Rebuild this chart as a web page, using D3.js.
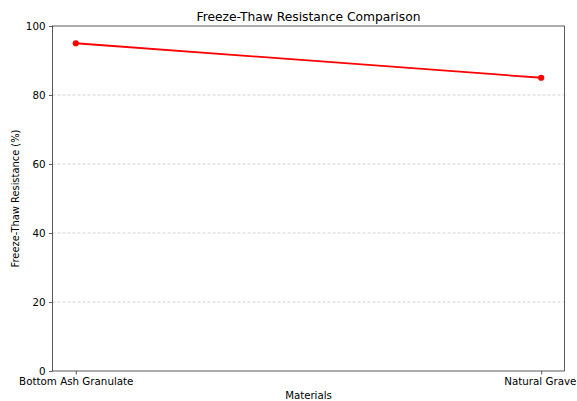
<!DOCTYPE html>
<html><head><meta charset="utf-8">
<script src="https://cdn.jsdelivr.net/npm/d3@7"></script>
<style>body{margin:0;background:#fff}svg{display:block}text{font-family:"DejaVu Sans",sans-serif}</style>
</head><body>
<svg id="c" width="577" height="401"></svg>
<script>
const categories = ["Bottom Ash Granulate", "Natural Gravel"];
const values = [95, 85];
const yTicks = [0, 20, 40, 60, 80, 100];

const W = 577, H = 401;
const m = {l: 52.5, r: 564.5, t: 26, b: 371};
const svg = d3.select("#c");

// matplotlib-like 5% margins
const xLin = d3.scaleLinear().domain([-0.05, 1.05]).range([m.l, m.r]);
const xPos = c => xLin(categories.indexOf(c));
const y = d3.scaleLinear().domain([0, 100]).range([m.b, m.t]);

// grid
svg.append("g").selectAll("line").data(yTicks.filter(t => t > 0 && t < 100)).join("line")
  .attr("x1", m.l).attr("x2", m.r).attr("y1", d => y(d)).attr("y2", d => y(d))
  .attr("stroke", "#b0b0b0").attr("stroke-opacity", 0.7).attr("stroke-width", 0.8)
  .attr("stroke-dasharray", "3,2");

// y axis
const ya = svg.append("g").attr("transform", `translate(${m.l},0)`)
  .call(d3.axisLeft(y).tickValues(yTicks).tickSize(3.5).tickPadding(3.5));
ya.select(".domain").remove();
ya.selectAll("line").attr("stroke", "#333").attr("stroke-width", 0.8);
ya.selectAll("text").attr("font-size", 10.3).attr("fill", "#000").attr("font-family", "DejaVu Sans");

// x axis
const xa = svg.append("g").attr("transform", `translate(0,${m.b})`)
  .call(d3.axisBottom(xLin).tickValues([0, 1]).tickFormat(i => categories[i]).tickSize(3.5).tickPadding(3.5));
xa.select(".domain").remove();
xa.selectAll("line").attr("stroke", "#333").attr("stroke-width", 0.8);
xa.selectAll("text").attr("font-size", 10.3).attr("fill", "#000").attr("font-family", "DejaVu Sans");

// frame
svg.append("rect").attr("x", m.l).attr("y", m.t).attr("width", m.r - m.l).attr("height", m.b - m.t)
  .attr("fill", "none").attr("stroke", "#333").attr("stroke-width", 0.8);

// line
const data = categories.map((c, i) => ({c, v: values[i]}));
svg.append("path").datum(data)
  .attr("d", d3.line().x(d => xPos(d.c)).y(d => y(d.v)))
  .attr("fill", "none").attr("stroke", "red").attr("stroke-width", 1.8);
svg.append("g").selectAll("circle").data(data).join("circle")
  .attr("cx", d => xPos(d.c)).attr("cy", d => y(d.v)).attr("r", 3.1).attr("fill", "red");

// labels
svg.append("text").attr("x", (m.l + m.r) / 2).attr("y", 20.5).attr("text-anchor", "middle")
  .attr("font-size", 12.3).text("Freeze-Thaw Resistance Comparison");
svg.append("text").attr("x", (m.l + m.r) / 2).attr("y", 398.5).attr("text-anchor", "middle")
  .attr("font-size", 10.2).text("Materials");
svg.append("text").attr("transform", `translate(18.5,${(m.t + m.b) / 2}) rotate(-90)`)
  .attr("text-anchor", "middle").attr("font-size", 9.9).text("Freeze-Thaw Resistance (%)");
</script>
</body></html>
